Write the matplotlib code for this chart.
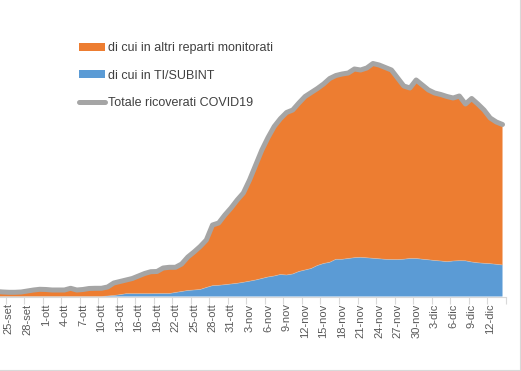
import matplotlib
matplotlib.use("Agg")
import matplotlib.pyplot as plt
import numpy as np
from matplotlib.lines import Line2D
from matplotlib.patches import Patch

# Days from 23-set to 14-dic (index 0 = 25-set)
days = list(range(-2, 81))

totale = [100, 90, 84, 84, 90, 110, 130, 144, 140, 130, 130, 130, 164, 130, 140, 160, 164, 164,
          190, 270, 300, 330, 360, 410, 460, 496, 500, 570, 584, 584, 650, 790, 890, 1000, 1130,
          1430, 1470, 1630, 1770, 1930, 2070, 2330, 2630, 2930, 3180, 3400, 3556, 3680, 3730,
          3870, 4000, 4080, 4160, 4250, 4360, 4420, 4450, 4470, 4550, 4530, 4570, 4660, 4630,
          4580, 4530, 4370, 4210, 4170, 4330, 4230, 4130, 4070, 4040, 4000, 3970, 4010, 3850,
          3960, 3850, 3730, 3570, 3490, 3440]

ti_subint = [0, 0, 0, 0, 0, 0, 0, 0, 0, 0, 0, 0, 0, 0, 0, 0, 0, 0,
             10, 20, 36, 56, 56, 56, 56, 56, 58, 60, 60, 80, 100, 120, 130, 140, 180,
             216, 224, 236, 250, 264, 284, 306, 330, 360, 390, 410, 440, 430, 450,
             500, 530, 560, 620, 660, 684, 744, 744, 760, 776, 784, 774, 764, 754,
             744, 740, 738, 746, 760, 760, 746, 734, 720, 710, 696, 710, 716, 714,
             690, 674, 664, 656, 644, 630]

tick_labels = ["25-set", "28-set", "1-ott", "4-ott", "7-ott", "10-ott", "13-ott", "16-ott",
               "19-ott", "22-ott", "25-ott", "28-ott", "31-ott", "3-nov", "6-nov", "9-nov",
               "12-nov", "15-nov", "18-nov", "21-nov", "24-nov", "27-nov", "30-nov", "3-dic",
               "6-dic", "9-dic", "12-dic"]

series_labels = ["di cui in altri reparti monitorati", "di cui in TI/SUBINT", "Totale ricoverati COVID19"]

c_orange = "#ED7D31"
c_blue = "#5B9BD5"
c_gray = "#A5A5A5"

plt.rcParams['font.family'] = ['Liberation Sans', 'DejaVu Sans']

W, H = 521, 371
fig = plt.figure(figsize=(W / 100, H / 100), dpi=100)
base_px = 296.5
top_px = 20
ax = fig.add_axes([0, (H - base_px) / H, 505.6 / W, (base_px - top_px) / H])

x = np.array(days)
tot = np.array(totale, dtype=float)
ti = np.array(ti_subint, dtype=float)
altri = tot - ti

ax.stackplot(x, ti, altri, colors=[c_blue, c_orange], linewidth=0)
ax.plot(x, ti, color="#C9C9C9", lw=0.5, alpha=0.6)
ax.plot(x, tot, color=c_gray, lw=3.6, solid_joinstyle='round', solid_capstyle='round')

ax.set_xlim(-1.44, 80.5)
ax.set_ylim(0, (base_px - top_px) * 20)

for s in ["top", "right", "left"]:
    ax.spines[s].set_visible(False)
ax.spines["bottom"].set_color("#D9D9D9")
ax.spines["bottom"].set_linewidth(0.8)
ax.set_yticks([])

label_pos = list(range(0, 81, 3))
ax.set_xticks(label_pos)
ax.set_xticklabels(tick_labels, rotation=90, fontsize=8, color="#595959")
ax.tick_params(axis='x', which='major', length=0, pad=5)
ax.set_xticks([p - 0.5 for p in range(0, 81, 3)] + [80.5], minor=True)
ax.tick_params(axis='x', which='minor', length=5, color="#D9D9D9", width=0.8)

handles = [Patch(facecolor=c_orange, edgecolor='none'),
           Patch(facecolor=c_blue, edgecolor='none'),
           Line2D([0], [0], color=c_gray, lw=3.6, solid_capstyle='round')]
leg = fig.legend(handles, series_labels, loc='upper left',
                 bbox_to_anchor=(79 / W, 1 - 42 / H), frameon=False,
                 fontsize=9, labelspacing=1.25, handlelength=2.1, handleheight=0.6,
                 handletextpad=0.25, borderaxespad=0, borderpad=0)
for t in leg.get_texts():
    t.set_color("#404040")

# chart border (right and bottom visible)
fig.add_artist(Line2D([519.5 / W, 519.5 / W], [1, 1 - 369.5 / H], color="#D9D9D9", lw=0.8,
                      transform=fig.transFigure))
fig.add_artist(Line2D([0, 519.5 / W], [1 - 369.5 / H, 1 - 369.5 / H], color="#D9D9D9", lw=0.8,
                      transform=fig.transFigure))

fig.savefig("out.png", dpi=100)
